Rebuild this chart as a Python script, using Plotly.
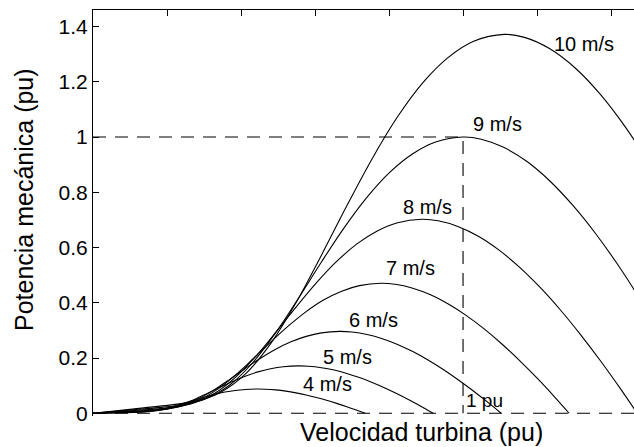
import plotly.graph_objects as go

# ---------------- data ----------------
wind_labels = ["4 m/s", "5 m/s", "6 m/s", "7 m/s", "8 m/s", "9 m/s", "10 m/s"]
y_ticks = [0, 0.2, 0.4, 0.6, 0.8, 1, 1.2, 1.4]
y_tick_text = ["0", "0.2", "0.4", "0.6", "0.8", "1", "1.2", "1.4"]
x_ticks = [0, 0.2, 0.4, 0.6, 0.8, 1.0, 1.2, 1.4]

speed_4 = [0, 0.0549, 0.0823, 0.1097, 0.1372, 0.1646, 0.1920, 0.2195, 0.2469, 0.2744, 0.3018, 0.3292,
           0.3567, 0.3841, 0.4115, 0.4444, 0.4664, 0.4938, 0.5213, 0.5487, 0.5761, 0.6036, 0.6310,
           0.6584, 0.6859, 0.7133, 0.7353]
power_4 = [0, 0.0013, 0.0019, 0.0028, 0.0048, 0.0091, 0.0161, 0.0256, 0.0366, 0.0481, 0.0590, 0.0687,
           0.0766, 0.0825, 0.0862, 0.0878, 0.0871, 0.0845, 0.0800, 0.0738, 0.0661, 0.0571, 0.0470,
           0.0357, 0.0236, 0.0108, 0.0]

speed_5 = [0, 0.0686, 0.1029, 0.1372, 0.1715, 0.2058, 0.2401, 0.2744, 0.3087, 0.3430, 0.3772, 0.4115,
           0.4458, 0.4801, 0.5144, 0.5556, 0.5830, 0.6173, 0.6516, 0.6859, 0.7202, 0.7545, 0.7888,
           0.8231, 0.8574, 0.8917, 0.9191]
power_5 = [0, 0.0024, 0.0037, 0.0054, 0.0093, 0.0177, 0.0315, 0.0500, 0.0715, 0.0939, 0.1152, 0.1342,
           0.1497, 0.1611, 0.1684, 0.1715, 0.1701, 0.1649, 0.1563, 0.1442, 0.1292, 0.1116, 0.0917,
           0.0698, 0.0462, 0.0211, 0.0]

speed_6 = [0, 0.0823, 0.1235, 0.1646, 0.2058, 0.2469, 0.2881, 0.3292, 0.3704, 0.4115, 0.4527, 0.4938,
           0.5350, 0.5761, 0.6173, 0.6667, 0.6996, 0.7407, 0.7819, 0.8230, 0.8642, 0.9053, 0.9465,
           0.9876, 1.0288, 1.0699, 1.1028]
power_6 = [0, 0.0042, 0.0063, 0.0093, 0.0161, 0.0306, 0.0544, 0.0865, 0.1236, 0.1622, 0.1991, 0.2318,
           0.2586, 0.2783, 0.2909, 0.2963, 0.2939, 0.2850, 0.2700, 0.2492, 0.2232, 0.1928, 0.1585,
           0.1206, 0.0798, 0.0364, 0.0]

speed_7 = [0, 0.0960, 0.1440, 0.1920, 0.2401, 0.2881, 0.3361, 0.3841, 0.4321, 0.4801, 0.5281, 0.5761,
           0.6241, 0.6721, 0.7202, 0.7778, 0.8162, 0.8642, 0.9122, 0.9602, 1.0082, 1.0562, 1.1042,
           1.1522, 1.2003, 1.2483, 1.2867]
power_7 = [0, 0.0067, 0.0101, 0.0148, 0.0256, 0.0486, 0.0864, 0.1373, 0.1963, 0.2576, 0.3162, 0.3681,
           0.4107, 0.4420, 0.4620, 0.4705, 0.4668, 0.4526, 0.4288, 0.3957, 0.3544, 0.3062, 0.2516,
           0.1915, 0.1267, 0.0578, 0.0]

speed_8 = [0, 0.1097, 0.1646, 0.2195, 0.2744, 0.3292, 0.3841, 0.4390, 0.4938, 0.5487, 0.6036, 0.6584,
           0.7133, 0.7682, 0.8231, 0.8889, 0.9328, 0.9877, 1.0425, 1.0974, 1.1523, 1.2071, 1.2620,
           1.3169, 1.3718, 1.4266, 1.4705]
power_8 = [0, 0.0100, 0.0150, 0.0221, 0.0381, 0.0725, 0.1290, 0.2049, 0.2929, 0.3845, 0.4720, 0.5495,
           0.6130, 0.6598, 0.6896, 0.7023, 0.6967, 0.6756, 0.6400, 0.5906, 0.5290, 0.4571, 0.3756,
           0.2858, 0.1891, 0.0863, 0.0]

speed_9 = [0, 0.1235, 0.1852, 0.2469, 0.3087, 0.3704, 0.4321, 0.4938, 0.5556, 0.6173, 0.6790, 0.7407,
           0.8025, 0.8642, 0.9259, 1.0, 1.0494, 1.1111, 1.1729, 1.2346, 1.2963, 1.3580, 1.4198, 1.4815]
power_9 = [0, 0.0142, 0.0214, 0.0314, 0.0543, 0.1032, 0.1837, 0.2918, 0.4171, 0.5475, 0.6720, 0.7824,
           0.8728, 0.9394, 0.9819, 1.0, 0.9920, 0.9619, 0.9113, 0.8409, 0.7532, 0.6508, 0.5348, 0.4069]

speed_10 = [0, 0.1372, 0.2058, 0.2743, 0.3429, 0.4115, 0.4801, 0.5487, 0.6173, 0.6859, 0.7544, 0.8230,
            0.8916, 0.9602, 1.0288, 1.1111, 1.1660, 1.2346, 1.3031, 1.3717, 1.4403, 1.5089]
power_10 = [0, 0.0195, 0.0294, 0.0431, 0.0745, 0.1416, 0.2520, 0.4003, 0.5722, 0.7510, 0.9218, 1.0733,
            1.1973, 1.2886, 1.3469, 1.3717, 1.3608, 1.3195, 1.2501, 1.1535, 1.0332, 0.8927]

# dashed reference lines (rated point 1 pu / 1 pu, and zero line)
rated_x = [0, 1, 1]
rated_y = [1, 1, 0]
zero_x = [0, 1.47]
zero_y = [0, 0]

# curve label positions (data coordinates)
label_x = [0.635, 0.689, 0.757, 0.857, 0.903, 1.092, 1.327]
label_y = [0.105, 0.203, 0.337, 0.525, 0.746, 1.047, 1.337]
pu_label = "1 pu"
pu_label_xy = [1.059, 0.047]

# ---------------- figure ----------------
FONT = "Arial, Liberation Sans, sans-serif"
curves = [(speed_4, power_4), (speed_5, power_5), (speed_6, power_6), (speed_7, power_7),
          (speed_8, power_8), (speed_9, power_9), (speed_10, power_10)]

fig = go.Figure()
for (xs, ys), name in zip(curves, wind_labels):
    fig.add_trace(go.Scatter(x=xs, y=ys, mode="lines", name=name,
                             line=dict(color="black", width=1.1, shape="spline"),
                             showlegend=False, hoverinfo="skip"))

fig.add_trace(go.Scatter(x=rated_x, y=rated_y, mode="lines", xaxis="x2",
                         line=dict(color="black", width=1.1, dash="13px,9px"),
                         showlegend=False, hoverinfo="skip"))
fig.add_trace(go.Scatter(x=zero_x, y=zero_y, mode="lines", xaxis="x2",
                         line=dict(color="black", width=1.1, dash="13px,9px"),
                         showlegend=False, hoverinfo="skip"))

annotations = []
for name, lx, ly in zip(wind_labels, label_x, label_y):
    annotations.append(dict(x=lx, y=ly, xref="x", yref="y", text=name, showarrow=False,
                            font=dict(family=FONT, size=20, color="black"),
                            xanchor="center", yanchor="middle"))
annotations.append(dict(x=pu_label_xy[0], y=pu_label_xy[1], xref="x", yref="y", text=pu_label,
                        showarrow=False, font=dict(family=FONT, size=19, color="black"),
                        xanchor="center", yanchor="middle"))
annotations.append(dict(x=0.608, y=-0.039, xref="paper", yref="paper",
                        text="Velocidad turbina (pu)", showarrow=False,
                        font=dict(family=FONT, size=25, color="black"),
                        xanchor="center", yanchor="middle"))
annotations.append(dict(x=-0.1275, y=0.532, xref="paper", yref="paper",
                        text="Potencia mecánica (pu)", showarrow=False, textangle=-90,
                        font=dict(family=FONT, size=25, color="black"),
                        xanchor="center", yanchor="middle"))

fig.update_layout(
    width=634, height=447,
    margin=dict(l=93, r=0, t=10, b=31),
    paper_bgcolor="white", plot_bgcolor="white",
    font=dict(family=FONT, color="black"),
    xaxis=dict(range=[0, 1.462], showline=False, showticklabels=False, ticks="",
               showgrid=False, zeroline=False),
    xaxis2=dict(range=[0, 1.462], overlaying="x", side="top", anchor="y",
                showline=True, linecolor="black", linewidth=1,
                ticks="inside", ticklen=6, tickcolor="black", tickwidth=1,
                tickvals=x_ticks, showticklabels=False, showgrid=False, zeroline=False),
    yaxis=dict(range=[-0.01, 1.46], showline=True, linecolor="black", linewidth=1,
               ticks="inside", ticklen=6, tickcolor="black", tickwidth=1,
               tickvals=y_ticks, ticktext=y_tick_text,
               tickfont=dict(family=FONT, size=21, color="black"),
               showgrid=False, zeroline=False),
    annotations=annotations,
)

fig.write_html("out.html")
